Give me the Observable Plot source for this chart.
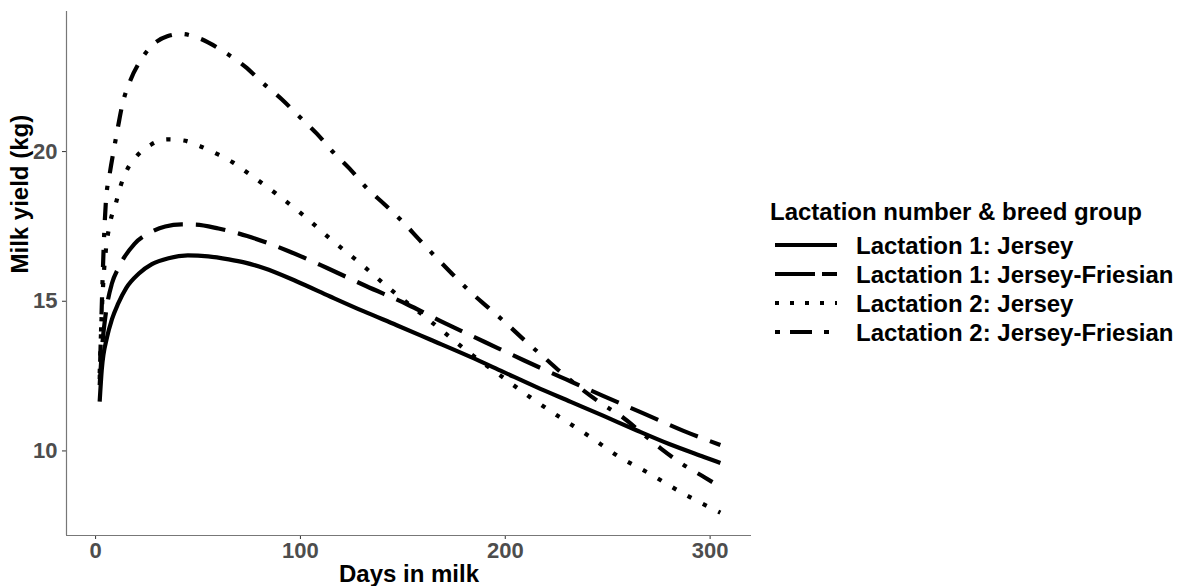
<!DOCTYPE html>
<html>
<head>
<meta charset="utf-8">
<script src="https://cdn.jsdelivr.net/npm/d3@7"></script>
<script src="https://cdn.jsdelivr.net/npm/@observablehq/plot@0.6"></script>
<style>
  html, body { margin: 0; padding: 0; background: #fff; }
  #wrap { position: relative; width: 1181px; height: 586px; overflow: hidden; font-family: "Liberation Sans", Arial, sans-serif; }
  #chart { position: absolute; left: 0; top: 0; }
  #legend { position: absolute; left: 0; top: 0; }
  .lg-title { position: absolute; left: 770px; font-size: 24px; font-weight: bold; color: #000; line-height: 29px; white-space: nowrap; }
  .lg-row { position: absolute; left: 775px; height: 29px; white-space: nowrap; }
  .lg-row svg { position: absolute; left: 0; top: 0; }
  .lg-row span { position: absolute; left: 81px; top: 0; font-size: 24px; font-weight: bold; color: #000; line-height: 29px; }
</style>
</head>
<body>
<div id="wrap"><div id="chart"></div><div id="legend"></div></div>
<script>
// ---- data ----
const seriesNames = ["Lactation 1: Jersey", "Lactation 1: Jersey-Friesian", "Lactation 2: Jersey", "Lactation 2: Jersey-Friesian"];
const legendTitle = "Lactation number & breed group";
const xTicks = [0, 100, 200, 300];
const yTicks = [10, 15, 20];
const xLabel = "Days in milk";
const yLabel = "Milk yield (kg)";

const daysL1J  = [2, 3, 5.6, 8, 11, 15, 21, 27.5, 35.6, 45, 55, 65, 73, 82, 98, 114.5, 131, 147, 163, 183, 199, 215, 232, 248, 264, 280, 297, 305];
const yieldL1J = [11.65, 12.7, 13.8, 14.4, 14.92, 15.45, 15.92, 16.24, 16.44, 16.53, 16.5, 16.4, 16.29, 16.11, 15.67, 15.16, 14.66, 14.2, 13.73, 13.14, 12.64, 12.14, 11.64, 11.17, 10.69, 10.23, 9.8, 9.6];

const daysL1JF  = [2, 3, 5, 8, 11, 19, 27, 34, 42, 49, 60, 70, 74, 94, 113, 132, 152, 171, 190, 209, 230, 248, 268, 287, 305];
const yieldL1JF = [12.2, 13.3, 14.6, 15.6, 16.09, 16.92, 17.31, 17.5, 17.57, 17.56, 17.43, 17.26, 17.18, 16.68, 16.11, 15.51, 14.9, 14.25, 13.64, 13.03, 12.38, 11.83, 11.24, 10.67, 10.2];

const daysL2J  = [2, 3, 4, 5, 7, 10, 12, 15, 20, 27, 35, 43, 51, 59, 67, 74, 88, 102, 115, 129, 142, 163, 184, 198, 212, 227, 241, 255, 271, 285, 305];
const yieldL2J = [12.6, 14.6, 15.9, 16.7, 17.6, 18.3, 18.81, 19.34, 19.84, 20.23, 20.41, 20.37, 20.18, 19.93, 19.64, 19.3, 18.6, 17.84, 17.06, 16.28, 15.51, 14.36, 13.2, 12.5, 11.8, 11.11, 10.49, 9.83, 9.22, 8.65, 7.94];

const daysL2JF  = [2, 3, 4, 5, 7, 9, 11, 13, 17, 22, 30, 35, 42, 50, 63, 73, 82, 91, 99, 108, 116, 124, 132, 141, 150, 158, 166, 174, 183, 192, 201, 210, 219, 228, 237, 247, 257, 267, 276, 286, 297, 305];
const yieldL2JF = [12.4, 14.8, 16.9, 18.3, 19.3, 20.1, 20.85, 21.55, 22.38, 23.05, 23.68, 23.85, 23.93, 23.8, 23.32, 22.84, 22.27, 21.74, 21.2, 20.6, 19.98, 19.43, 18.81, 18.24, 17.65, 17.06, 16.48, 15.92, 15.31, 14.77, 14.23, 13.66, 13.12, 12.58, 12.08, 11.58, 11.14, 10.58, 10.08, 9.58, 9.13, 8.8];

// ---- styling ----
const dashes = [null, "30,13", "4.3,12.9", "4.3,12.9,17.2,12.9"];
const keyDashes = [null, "40,7,15", "4,11", "5,10,22,12,5,20"];
const xDomain = [-14.2, 320.2];
const yDomain = [7.175, 24.68];
const font = '"Liberation Sans", Arial, sans-serif';

const allDays = [daysL1J, daysL1JF, daysL2J, daysL2JF];
const allYields = [yieldL1J, yieldL1JF, yieldL2J, yieldL2JF];
const tables = allDays.map((days, s) => days.map((d, i) => ({day: d, yield: allYields[s][i], series: seriesNames[s]})));

const lineMarks = tables.map((rows, s) => Plot.line(rows, {
  x: "day", y: "yield", stroke: "black", strokeWidth: 4.2,
  strokeDasharray: dashes[s] || undefined, strokeLinecap: "butt", strokeLinejoin: "round",
  curve: "monotone-x"
}));

const chart = Plot.plot({
  width: 760,
  height: 586,
  marginLeft: 66, marginRight: 9, marginTop: 11, marginBottom: 51,
  style: {fontFamily: font, fontSize: "22px", fontWeight: "bold", background: "transparent", overflow: "visible"},
  x: {domain: xDomain},
  y: {domain: yDomain},
  marks: [
    Plot.axisX({ticks: xTicks, tickSize: 4, tickPadding: 3, stroke: "#333", fill: "#4D4D4D", label: null, tickFormat: d => String(d)}),
    Plot.axisY({ticks: yTicks, tickSize: 4, tickPadding: 5, stroke: "#333", fill: "#4D4D4D", label: null, tickFormat: d => String(d)}),
    Plot.ruleX([xDomain[0]], {stroke: "#777", strokeWidth: 1.2}),
    Plot.ruleY([yDomain[0]], {stroke: "#777", strokeWidth: 1.2}),
    ...lineMarks,
    Plot.text([xLabel], {frameAnchor: "bottom", dy: 39, fontSize: 24, fontWeight: "bold", fill: "black", lineAnchor: "middle"}),
    Plot.text([yLabel], {frameAnchor: "left", dx: -46, rotate: -90, fontSize: 24, fontWeight: "bold", fill: "black", lineAnchor: "middle"})
  ]
});
document.getElementById("chart").appendChild(chart);

// ---- legend ----
const legend = document.getElementById("legend");
const t = document.createElement("div");
t.className = "lg-title";
t.style.top = "197px";
t.textContent = legendTitle;
legend.appendChild(t);
seriesNames.forEach((name, i) => {
  const row = document.createElement("div");
  row.className = "lg-row";
  row.style.top = (230.5 + 29 * i) + "px";
  const ns = "http://www.w3.org/2000/svg";
  const svg = document.createElementNS(ns, "svg");
  svg.setAttribute("width", 64); svg.setAttribute("height", 29);
  const ln = document.createElementNS(ns, "line");
  ln.setAttribute("x1", 0); ln.setAttribute("x2", 62);
  ln.setAttribute("y1", 14); ln.setAttribute("y2", 14);
  ln.setAttribute("stroke", "black"); ln.setAttribute("stroke-width", 4.2);
  if (keyDashes[i]) ln.setAttribute("stroke-dasharray", keyDashes[i]);
  svg.appendChild(ln);
  row.appendChild(svg);
  const sp = document.createElement("span");
  sp.textContent = name;
  row.appendChild(sp);
  legend.appendChild(row);
});
</script>
</body>
</html>
